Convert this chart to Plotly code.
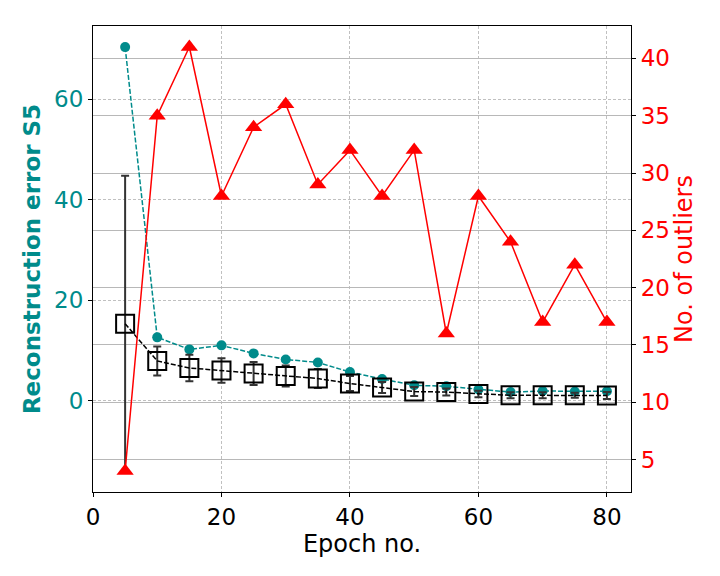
import plotly.graph_objects as go

# values
epochs = [5, 10, 15, 20, 25, 30, 35, 40, 45, 50, 55, 60, 65, 70, 75, 80]
recon_error = [70.4, 12.6, 10.2, 11.0, 9.4, 8.2, 7.6, 5.7, 4.3, 3.05, 2.85, 2.2, 1.7, 1.9, 1.8, 1.85]
mean_error = [15.3, 7.9, 6.5, 6.0, 5.4, 4.9, 4.4, 3.4, 2.6, 1.8, 1.7, 1.3, 1.05, 1.05, 1.05, 1.0]
std_error = [29.5, 2.9, 2.65, 2.45, 2.3, 2.1, 1.9, 1.5, 1.1, 0.9, 0.7, 0.65, 0.6, 0.6, 0.5, 0.7]
outliers = [4, 35, 41, 28, 34, 36, 29, 32, 28, 32, 16, 28, 24, 17, 22, 17]

teal = '#008b8b'
font = 'DejaVu Sans'

fig = go.Figure()

fig.add_trace(go.Scatter(
    x=epochs, y=recon_error, mode='lines+markers',
    line=dict(color=teal, width=1.5, dash='5px,2px'),
    marker=dict(color=teal, size=10, symbol='circle'),
    showlegend=False))

fig.add_trace(go.Scatter(
    x=epochs, y=mean_error, mode='lines+markers',
    line=dict(color='black', width=1.5, dash='5px,2px'),
    marker=dict(symbol='square-open', size=18, color='black', line=dict(width=2)),
    error_y=dict(type='data', array=std_error, color='#333333', thickness=2, width=4),
    showlegend=False))

fig.add_trace(go.Scatter(
    x=epochs, y=outliers, mode='lines+markers', yaxis='y2',
    line=dict(color='red', width=1.5),
    marker=dict(color='red', size=15, symbol='triangle-up'),
    showlegend=False))

# page body adds ~8px offset, so the figure is a bit smaller than the window
fig.update_layout(
    width=712, height=568,
    plot_bgcolor='white', paper_bgcolor='white',
    margin=dict(l=85, r=89, t=18, b=84),
    font=dict(family=font, size=23, color='black'),
    xaxis=dict(
        range=[0, 83.75], tickvals=[0, 20, 40, 60, 80],
        showline=True, linecolor='black', linewidth=1.2, mirror=True,
        ticks='outside', ticklen=4, tickcolor='black',
        tickfont=dict(size=23),
        showgrid=True, gridcolor='#c0c0c0', griddash='3px,2px', gridwidth=0.8,
        zeroline=False, automargin=False,
        title=dict(text='Epoch no.', font=dict(size=24, color='black'), standoff=4),
    ),
    yaxis=dict(
        range=[-18.2, 74.6], tickvals=[0, 20, 40, 60],
        showline=True, linecolor='black', linewidth=1.2,
        ticks='outside', ticklen=4, tickcolor='black',
        tickfont=dict(color=teal, size=23),
        showgrid=True, gridcolor='#c0c0c0', griddash='3px,2px', gridwidth=0.8,
        zeroline=False, automargin=False,
        title=dict(text='<b>Reconstruction error S5</b>', font=dict(size=23, color=teal), standoff=6),
    ),
    yaxis2=dict(
        overlaying='y', side='right',
        range=[2.17, 42.83], tickvals=[5, 10, 15, 20, 25, 30, 35, 40],
        showline=True, linecolor='black', linewidth=1.2,
        ticks='outside', ticklen=4, tickcolor='black',
        tickfont=dict(color='red', size=23),
        showgrid=True, gridcolor='#b8b8b8', gridwidth=1,
        zeroline=False, automargin=False,
        title=dict(text='No. of outliers', font=dict(size=24, color='red'), standoff=0),
    ),
)

fig.write_html("out.html")
